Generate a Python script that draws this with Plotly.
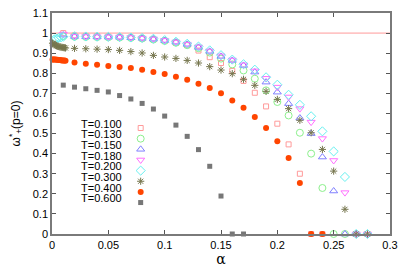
import plotly.graph_objects as go

# ---------------- data ----------------
reference_level = 1.0

alpha_T0100 = [0.01, 0.02, 0.03, 0.04, 0.05, 0.06, 0.07, 0.08, 0.09, 0.10, 0.11, 0.12,
               0.13, 0.14, 0.15, 0.16, 0.17, 0.18, 0.19, 0.20, 0.21, 0.22, 0.23, 0.24]
omega_T0100 = [1.000, 0.988, 0.986, 0.985, 0.983, 0.981, 0.978, 0.974, 0.969, 0.962, 0.952, 0.940,
               0.913, 0.880, 0.851, 0.812, 0.762, 0.703, 0.635, 0.549, 0.446, 0.300, 0.0, 0.0]

alpha_T0130 = [0.01, 0.02, 0.03, 0.04, 0.05, 0.06, 0.07, 0.08, 0.09, 0.10, 0.11, 0.12, 0.13,
               0.14, 0.15, 0.16, 0.17, 0.18, 0.19, 0.20, 0.21, 0.22, 0.23, 0.24, 0.25, 0.26]
omega_T0130 = [0.985, 0.982, 0.981, 0.980, 0.979, 0.978, 0.976, 0.973, 0.968, 0.961, 0.952, 0.940, 0.925,
               0.903, 0.873, 0.844, 0.814, 0.773, 0.715, 0.657, 0.590, 0.504, 0.400, 0.229, 0.0, 0.0]

alpha_T0150 = [0.01, 0.02, 0.03, 0.04, 0.05, 0.06, 0.07, 0.08, 0.09, 0.10, 0.11, 0.12, 0.13, 0.14,
               0.15, 0.16, 0.17, 0.18, 0.19, 0.20, 0.21, 0.22, 0.23, 0.24, 0.25, 0.26, 0.27]
omega_T0150 = [0.990, 0.983, 0.982, 0.981, 0.980, 0.979, 0.977, 0.974, 0.970, 0.963, 0.955, 0.944, 0.929, 0.909,
               0.884, 0.864, 0.839, 0.806, 0.756, 0.706, 0.649, 0.577, 0.500, 0.383, 0.214, 0.0, 0.0]

alpha_T0180 = [0.01, 0.02, 0.03, 0.04, 0.05, 0.06, 0.07, 0.08, 0.09, 0.10, 0.11, 0.12, 0.13, 0.14,
               0.15, 0.16, 0.17, 0.18, 0.19, 0.20, 0.21, 0.22, 0.23, 0.24, 0.25, 0.26, 0.27, 0.28]
omega_T0180 = [0.995, 0.984, 0.983, 0.982, 0.981, 0.980, 0.978, 0.975, 0.971, 0.964, 0.956, 0.945, 0.931, 0.911,
               0.887, 0.866, 0.842, 0.812, 0.775, 0.731, 0.682, 0.624, 0.557, 0.475, 0.366, 0.206, 0.0, 0.0]

alpha_T0200 = [0.002, 0.004, 0.006, 0.008, 0.01, 0.02, 0.03, 0.04, 0.05, 0.06, 0.07, 0.08, 0.09, 0.10,
               0.11, 0.12, 0.13, 0.14, 0.15, 0.16, 0.17, 0.18, 0.19, 0.20, 0.21, 0.22, 0.23, 0.24,
               0.25, 0.26, 0.27, 0.28]
omega_T0200 = [0.968, 0.972, 0.976, 0.979, 0.982, 0.984, 0.983, 0.982, 0.981, 0.980, 0.978, 0.976, 0.972, 0.965,
               0.957, 0.947, 0.933, 0.914, 0.890, 0.868, 0.845, 0.818, 0.780, 0.743, 0.693, 0.643, 0.586, 0.511,
               0.411, 0.284, 0.0, 0.0]

alpha_T0300 = [0.0005, 0.001, 0.002, 0.003, 0.004, 0.005, 0.006, 0.007, 0.008, 0.009, 0.010, 0.011, 0.012,
               0.02, 0.03, 0.04, 0.05, 0.06, 0.07, 0.08, 0.09, 0.10, 0.11, 0.12, 0.13, 0.14, 0.15,
               0.16, 0.17, 0.18, 0.19, 0.20, 0.21, 0.22, 0.23, 0.24, 0.25, 0.26, 0.27, 0.28]
omega_T0300 = [0.950, 0.947, 0.943, 0.940, 0.937, 0.935, 0.933, 0.931, 0.930, 0.929, 0.928, 0.927, 0.926,
               0.924, 0.922, 0.920, 0.918, 0.914, 0.908, 0.901, 0.889, 0.881, 0.874, 0.864, 0.851, 0.833, 0.816,
               0.798, 0.770, 0.740, 0.710, 0.670, 0.624, 0.566, 0.504, 0.421, 0.313, 0.123, 0.0, 0.0]

alpha_T0400 = [0.0005, 0.001, 0.002, 0.003, 0.004, 0.005, 0.006, 0.007, 0.008, 0.009, 0.010, 0.011, 0.012,
               0.02, 0.03, 0.04, 0.05, 0.06, 0.07, 0.08, 0.09, 0.10, 0.11, 0.12, 0.13, 0.14, 0.15,
               0.16, 0.17, 0.18, 0.19, 0.20, 0.21, 0.22, 0.23, 0.24]
omega_T0400 = [0.869, 0.869, 0.868, 0.868, 0.867, 0.867, 0.866, 0.866, 0.865, 0.864, 0.864, 0.863, 0.862,
               0.854, 0.848, 0.843, 0.836, 0.831, 0.826, 0.818, 0.806, 0.796, 0.783, 0.768, 0.748, 0.727, 0.700,
               0.665, 0.629, 0.582, 0.527, 0.462, 0.378, 0.254, 0.0, 0.0]

alpha_T0600 = [0.01, 0.02, 0.03, 0.04, 0.05, 0.06, 0.07, 0.08, 0.09, 0.10, 0.11, 0.12, 0.13, 0.14,
               0.15, 0.16, 0.17]
omega_T0600 = [0.741, 0.731, 0.723, 0.715, 0.707, 0.689, 0.672, 0.650, 0.622, 0.587, 0.542, 0.486, 0.420, 0.337,
               0.189, 0.0, 0.0]

labels = ["T=0.100", "T=0.130", "T=0.150", "T=0.180", "T=0.200", "T=0.300", "T=0.400", "T=0.600"]

x_ticks = [0, 0.05, 0.1, 0.15, 0.2, 0.25, 0.3]
x_ticklabels = ["0", "0.05", "0.1", "0.15", "0.2", "0.25", "0.3"]
y_ticks = [0, 0.1, 0.2, 0.3, 0.4, 0.5, 0.6, 0.7, 0.8, 0.9, 1.0, 1.1]
y_ticklabels = ["0", "0.1", "0.2", "0.3", "0.4", "0.5", "0.6", "0.7", "0.8", "0.9", "1", "1.1"]

# ---------------- styles ----------------
series = [
    (alpha_T0100, omega_T0100, dict(symbol="square-open", size=5, color="#ff9a9a", line=dict(width=1))),
    (alpha_T0130, omega_T0130, dict(symbol="circle-open", size=7, color="#8cf08c", line=dict(width=1))),
    (alpha_T0150, omega_T0150, dict(symbol="triangle-up-open", size=7, color="#8080ff", line=dict(width=1))),
    (alpha_T0180, omega_T0180, dict(symbol="triangle-down-open", size=7, color="#ff70ff", line=dict(width=1))),
    (alpha_T0200, omega_T0200, dict(symbol="diamond-open", size=7, color="#66f0f0", line=dict(width=1))),
    (alpha_T0300, omega_T0300, dict(symbol="asterisk-open", size=6, color="#76764e", line=dict(width=1, color="#76764e"))),
    (alpha_T0400, omega_T0400, dict(symbol="circle", size=6, color="#ff4500", line=dict(width=0))),
    (alpha_T0600, omega_T0600, dict(symbol="square", size=5, color="#777777", line=dict(width=0))),
]

FONT = "Liberation Sans, Arial, sans-serif"
W, H = 409, 268
ML, MR, MT, MB = 52, 19, 13, 34
PW, PH = W - ML - MR, H - MT - MB

fig = go.Figure()
layout_legends = {}
row0_px, row_step_px = 128.0, 10.65
for i, ((xs, ys, mk), lab) in enumerate(zip(series, labels)):
    lname = "legend" if i == 0 else f"legend{i + 1}"
    fig.add_trace(go.Scatter(
        x=xs, y=ys, mode="markers", marker=mk, name="",
        legend=lname, cliponaxis=False, showlegend=True,
    ))
    ypx = row0_px + i * row_step_px
    layout_legends[lname] = dict(
        title=dict(text=lab, side="left", font=dict(family=FONT, size=11, color="#000")),
        x=(79 - ML) / PW, xanchor="left",
        y=(H - MB - ypx) / PH, yanchor="middle",
        bgcolor="rgba(0,0,0,0)", borderwidth=0,
        font=dict(family=FONT, size=11),
        itemwidth=30, indentation=-9,
    )

fig.add_shape(type="line", xref="x domain", x0=0, x1=1, yref="y",
              y0=reference_level, y1=reference_level,
              line=dict(color="#ff9a9a", width=1), layer="below")

axis_common = dict(
    showgrid=False, zeroline=False, showline=True, mirror="ticks",
    linecolor="#7a7a7a", linewidth=1.5, ticks="inside", ticklen=4,
    tickcolor="#555", tickwidth=1, automargin=False,
    tickfont=dict(family=FONT, size=11, color="#000"),
)
fig.update_xaxes(range=[0, 0.3], tickvals=x_ticks, ticktext=x_ticklabels,
                 title=dict(text="α", font=dict(family="DejaVu Serif, serif", size=14, color="#000"), standoff=4),
                 **axis_common)
fig.update_yaxes(range=[0, 1.1], tickvals=y_ticks, ticktext=y_ticklabels,
                 title=dict(text="ω<sup>*</sup><sub>+</sub>(p=0)", font=dict(family=FONT, size=12, color="#000"), standoff=10),
                 **axis_common)

fig.update_layout(
    width=W, height=H, margin=dict(l=ML, r=MR, t=MT, b=MB, autoexpand=False),
    plot_bgcolor="white", paper_bgcolor="white",
    font=dict(family=FONT, size=11, color="#000"),
    showlegend=True,
    **layout_legends,
)

fig.write_html("out.html", config={"displayModeBar": False},
               post_script="document.body.style.margin='0px';")
